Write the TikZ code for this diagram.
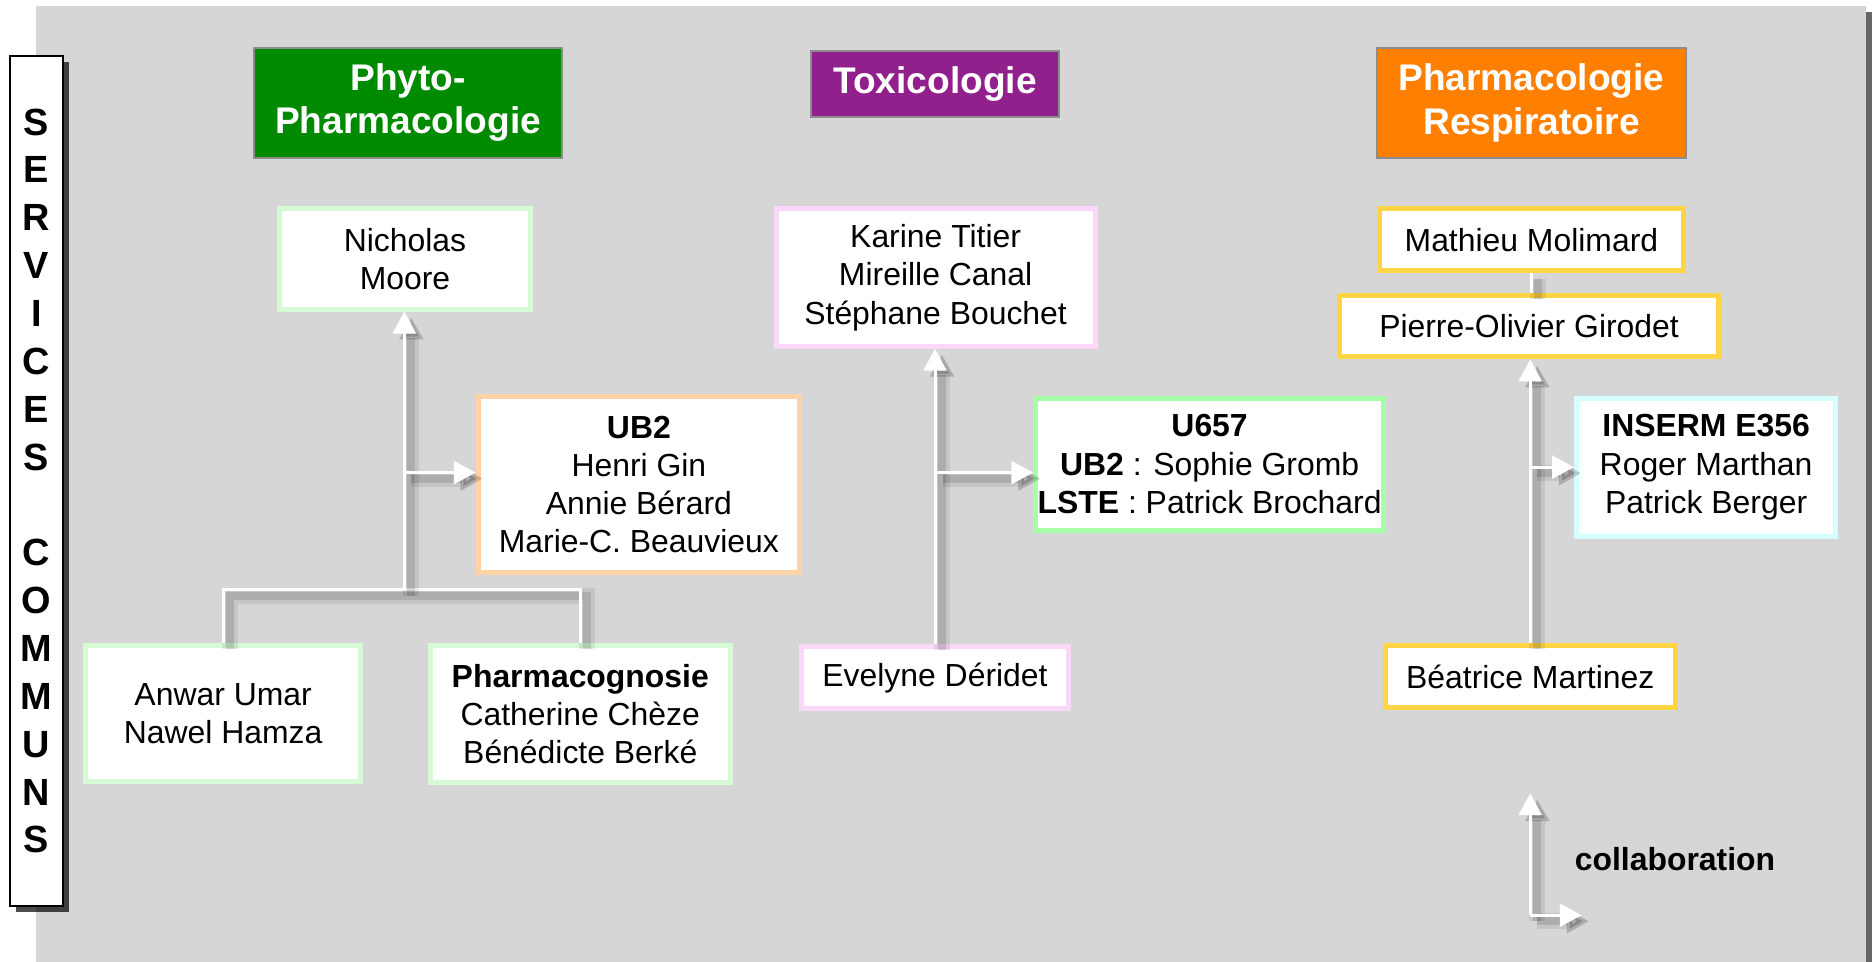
\documentclass[tikz,border=0pt]{standalone}
\usepackage{fontspec}
\setmainfont{Liberation Sans}
\usetikzlibrary{arrows.meta,shadows}

\definecolor{bggrey}{HTML}{D6D6D6}
\definecolor{phygreen}{HTML}{008A00}
\definecolor{toxpurple}{HTML}{911F8C}
\definecolor{respiorange}{HTML}{FF7F00}
\definecolor{edgegrey}{HTML}{8C8C8C}
\definecolor{palegreen}{HTML}{D6FAD6}
\definecolor{peach}{HTML}{FFD3A6}
\definecolor{palepink}{HTML}{FAD8FA}
\definecolor{mintgreen}{HTML}{A6FFA6}
\definecolor{gold}{HTML}{FFD545}
\definecolor{palecyan}{HTML}{D6FFFF}

\newcommand{\namefont}{\fontsize{16}{19.2}\selectfont}
\newcommand{\headfont}{\fontsize{18.6}{21.6}\selectfont\bfseries}
\newcommand{\servfont}{\fontsize{19}{24}\selectfont\bfseries}

\begin{document}
\begin{tikzpicture}[x=0.6pt, y=-0.6pt,
    header/.style={draw=edgegrey, line width=1pt, fill=#1, text=white, align=center, font=\headfont, inner sep=0pt},
    person/.style={draw=#1, fill=white, line width=2.5pt, align=center, font=\namefont, inner sep=0pt},
    link/.style={draw=white, line width=1.5pt,
        preaction={draw=black, opacity=0.08, line width=8pt, transform canvas={shift={(3.5pt,-3pt)}}},
        preaction={draw=black, opacity=0.12, line width=4pt, transform canvas={shift={(3.5pt,-3pt)}}}},
    arrowtip/.style={-{Triangle[length=11pt, width=11.5pt]}}]
    \useasboundingbox (0,0) rectangle (1568,804);

    % Background panel
    \fill[bggrey, drop shadow={shadow xshift=3pt, shadow yshift=-3pt, fill=black, opacity=0.6}] (30,5) rectangle (1560,804);

    % Services communs
    \node[draw=black, line width=1pt, fill=white, minimum width=27pt, minimum height=426pt, inner sep=0pt,
          align=center, font=\servfont, drop shadow={shadow xshift=3pt, shadow yshift=-3pt, fill=black, opacity=0.7}]
          (services) at (30.5,402) {S\\E\\R\\V\\I\\C\\E\\S\\[24pt]C\\O\\M\\M\\U\\N\\S};

    % Headers
    \node[header=phygreen, minimum width=154.8pt, minimum height=55.2pt] (phyto) at (341,86) {Phyto-\\Pharmacologie};
    \node[header=toxpurple, minimum width=124.2pt, minimum height=33pt] (toxico) at (781.5,70.5) {Toxicologie};
    \node[header=respiorange, minimum width=154.8pt, minimum height=55.2pt] (respi) at (1280,86) {Pharmacologie\\Respiratoire};

    % Phyto-Pharmacologie column
    \node[person=palegreen, minimum width=125.8pt, minimum height=50.2pt] (nicholas) at (338.5,216.5) {Nicholas\\Moore};
    \node[person=peach, minimum width=161.2pt, minimum height=88pt] (ub2) at (534,405) {\textbf{UB2}\\Henri Gin\\Annie Bérard\\Marie-C. Beauvieux};
    \node[person=palegreen, minimum width=137.8pt, minimum height=68.2pt] (anwar) at (186.5,596.5) {Anwar Umar\\Nawel Hamza};
    \node[person=palegreen, minimum width=150.4pt, minimum height=68.8pt] (cognosie) at (485,597) {\textbf{Pharmacognosie}\\Catherine Chèze\\Bénédicte Berké};

    % Toxicologie column
    \node[person=palepink, minimum width=160pt, minimum height=68.8pt] (karine) at (782,232) {Karine Titier\\Mireille Canal\\Stéphane Bouchet};
    \node[person=mintgreen, minimum width=174.4pt, minimum height=66.4pt] (u657) at (1011,388) {\textbf{U657}\\\textbf{UB2} : Sophie Gromb\\\textbf{LSTE} : Patrick Brochard};
    \node[person=palepink, minimum width=134.2pt, minimum height=31pt] (evelyne) at (781.5,566.5) {Evelyne Déridet};

    % Pharmacologie Respiratoire column
    \node[person=gold, minimum width=152.8pt, minimum height=31pt] (mathieu) at (1280,200.5) {Mathieu Molimard};
    \node[person=gold, minimum width=190pt, minimum height=31pt] (pierre) at (1278,272.5) {Pierre-Olivier Girodet};
    \node[person=palecyan, minimum width=130pt, minimum height=69.4pt] (inserm) at (1426,390.5) {\textbf{INSERM E356}\\Roger Marthan\\Patrick Berger};
    \node[person=gold, minimum width=145.6pt, minimum height=31pt] (beatrice) at (1279,565.5) {Béatrice Martinez};

    % Phyto links
    \coordinate (phyjoin) at (338,493);
    \coordinate (phybranch) at (338,395);
    \draw[link] (anwar.north) |- (phyjoin) -| (cognosie.north);
    \draw[link, arrowtip] (phyjoin) -- (phyjoin |- nicholas.south);
    \draw[link, arrowtip] (phybranch) -- (phybranch -| ub2.west);

    % Toxico links
    \coordinate (toxbranch) at (782,395);
    \draw[link, arrowtip] (evelyne.north) -- (evelyne.north |- karine.south);
    \draw[link, arrowtip] (toxbranch) -- (toxbranch -| u657.west);

    % Respi links
    \draw[link] (mathieu.south) -- (mathieu.south |- pierre.north);
    \draw[link, arrowtip] (beatrice.north) -- (beatrice.north |- pierre.south);
    \draw[link, arrowtip] (beatrice.north |- inserm.west) -- (inserm.west);

    % Legend
    \coordinate (legcorner) at (1279,765);
    \coordinate (legup) at (1279,663);
    \coordinate (legright) at (1322,765);
    \draw[link, arrowtip] (legcorner) -- (legup);
    \draw[link, arrowtip] (legcorner) -- (legright);
    \node[font=\namefont\bfseries] (legend) at (1400,718) {collaboration};
\end{tikzpicture}
\end{document}
